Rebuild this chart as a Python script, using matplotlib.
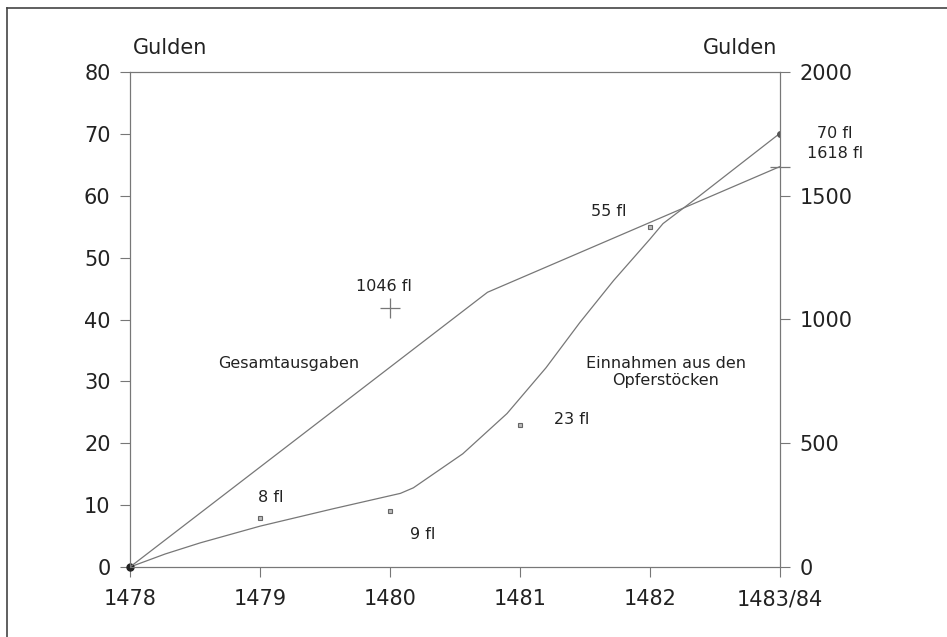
import matplotlib
matplotlib.use('Agg')
import matplotlib.pyplot as plt
from matplotlib.lines import Line2D
import numpy as np

# categories and values (left axis: Gulden, right axis: Gulden fl)
years = ['1478', '1479', '1480', '1481', '1482', '1483/84']
einnahmen = [0, 8, 9, 23, 55, 70]           # Einnahmen aus den Opferstöcken
einnahmen_labels = ['', '8 fl', '9 fl', '23 fl', '55 fl', '70 fl']

# drawn curve of Einnahmen (x in category positions)
curve_x = [0, 0.27, 0.54, 1.0, 1.56, 2.08, 2.18, 2.56, 2.9, 3.2, 3.46, 3.72, 4.0, 4.1, 4.37, 5]
curve_y = [0, 2.1, 3.9, 6.6, 9.4, 11.9, 12.8, 18.3, 24.8, 32.2, 39.5, 46.3, 53.0, 55.5, 59.8, 70.1]

# Gesamtausgaben line (right axis)
ausgaben_x = [0, 2.75, 5]
ausgaben_fl = [0, 1110, 1618]
ausgaben_1480 = 1046

line_col = '#777777'
text_col = '#222222'
plt.rcParams['font.family'] = 'DejaVu Sans'

fig = plt.figure(figsize=(9.47, 6.37), dpi=100)
ax = fig.add_axes([130/947, 1-567/637, 650/947, 495/637])
ax2 = ax.twinx()

x = np.arange(len(years))

ax.plot(curve_x, curve_y, color=line_col, lw=0.9)
ax.plot(x[1:5], einnahmen[1:5], 's', ms=3.5, color='#666666', mfc='#bbbbbb', mew=0.8)
ax.plot([x[5]], [einnahmen[5]], 'o', ms=4, color='#555555')
ax.plot([x[0]], [einnahmen[0]], 'o', ms=5, color='#222222', clip_on=False, zorder=5)

ax2.plot(ausgaben_x, ausgaben_fl, color=line_col, lw=0.9)
ax2.plot([2], [ausgaben_1480], '+', ms=14, color=line_col, mew=0.9)
ax2.plot([5], [ausgaben_fl[-1]], '_', ms=14, color=line_col, mew=0.9, clip_on=False)

ax.set_xlim(0, 5)
ax.set_ylim(0, 80)
ax2.set_ylim(0, 2000)
ax.set_xticks(x)
ax.set_xticklabels(years)
ax.set_yticks(np.arange(0, 81, 10))
ax2.set_yticks(np.arange(0, 2001, 500))

for a in (ax, ax2):
    for s in a.spines.values():
        s.set_color(line_col)
        s.set_linewidth(0.8)
    a.tick_params(length=7, width=0.8, color=line_col, labelsize=15,
                  labelcolor=text_col, pad=7)
ax.tick_params(axis='x', pad=9)

# annotations
fs = 11.5
ax.text(1.08, 11.3, einnahmen_labels[1], fontsize=fs, color=text_col, ha='center', va='center')
ax.text(2.25, 5.3, einnahmen_labels[2], fontsize=fs, color=text_col, ha='center', va='center')
ax.text(3.4, 23.8, einnahmen_labels[3], fontsize=fs, color=text_col, ha='center', va='center')
ax.text(3.68, 57.5, einnahmen_labels[4], fontsize=fs, color=text_col, ha='center', va='center')
ax.text(5.42, 70, einnahmen_labels[5], fontsize=fs, color=text_col, ha='center', va='center', clip_on=False)
ax2.text(5.42, 1672, '%d fl' % ausgaben_fl[-1], fontsize=fs, color=text_col, ha='center', va='center', clip_on=False)
ax2.text(1.95, 1132, '%d fl' % ausgaben_1480, fontsize=fs, color=text_col, ha='center', va='center')
ax.text(1.22, 32.9, 'Gesamtausgaben', fontsize=fs, color=text_col, ha='center', va='center')
ax.text(4.12, 31.5, 'Einnahmen aus den\nOpferstöcken', fontsize=fs, color=text_col,
        ha='center', va='center', linespacing=1.1)

fig.text(133/947, 1-48/637, 'Gulden', fontsize=15, color=text_col, ha='left', va='center')
fig.text(777/947, 1-48/637, 'Gulden', fontsize=15, color=text_col, ha='right', va='center')

# outer frame
fig.add_artist(Line2D([7/947, 7/947], [0, 1-8/637], color='#444444', lw=1.2))
fig.add_artist(Line2D([7/947, 1], [1-8/637, 1-8/637], color='#444444', lw=1.2))

fig.savefig('out.png', dpi=100)
